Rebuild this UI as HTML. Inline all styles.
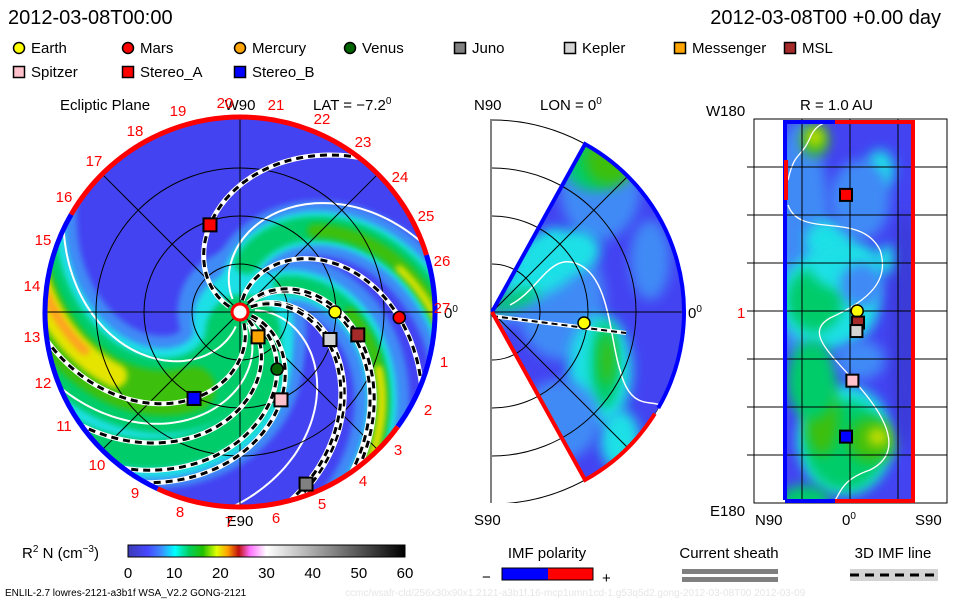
<!DOCTYPE html>
<html><head><meta charset="utf-8">
<style>
html,body{margin:0;padding:0;background:#fff;}
svg{display:block;font-family:"Liberation Sans",sans-serif;}
text{fill:#000;}
</style></head>
<body>
<svg id="root" width="960" height="600" viewBox="0 0 960 600" xmlns="http://www.w3.org/2000/svg">
<defs>
  <clipPath id="diskClip"><circle cx="240" cy="312" r="194"/></clipPath>
  <clipPath id="secClip"><path id="secPathC" d=""/></clipPath>
  <clipPath id="rectClip"><rect x="785" y="122" width="129" height="380"/></clipPath>
  <clipPath id="merBox"><rect x="491" y="119" width="240" height="384"/></clipPath>
  <filter id="blur6" x="-50%" y="-50%" width="200%" height="200%"><feGaussianBlur stdDeviation="6"/></filter>
  <filter id="blur3" x="-50%" y="-50%" width="200%" height="200%"><feGaussianBlur stdDeviation="3"/></filter>
  <linearGradient id="cmap" x1="0" x2="1" y1="0" y2="0">
    <stop offset="0" stop-color="#3c3cb4"/>
    <stop offset="0.07" stop-color="#4646ff"/>
    <stop offset="0.12" stop-color="#3c8cff"/>
    <stop offset="0.17" stop-color="#00ffff"/>
    <stop offset="0.22" stop-color="#00d060"/>
    <stop offset="0.27" stop-color="#20c000"/>
    <stop offset="0.32" stop-color="#e0ff00"/>
    <stop offset="0.36" stop-color="#ffa000"/>
    <stop offset="0.40" stop-color="#c01010"/>
    <stop offset="0.44" stop-color="#ff70ff"/>
    <stop offset="0.50" stop-color="#ffffff"/>
    <stop offset="1" stop-color="#000000"/>
  </linearGradient>
</defs>

<!-- Header -->
<text x="8" y="24" font-size="20">2012-03-08T00:00</text>
<text x="941" y="24" font-size="20" text-anchor="end">2012-03-08T00 +0.00 day</text>
<g id="legend" font-size="15"></g>

<!-- Ecliptic panel -->
<g id="ecl">
  <text x="60" y="110" font-size="15">Ecliptic Plane</text>
  <text x="313" y="110" font-size="15">LAT = −7.2<tspan dy="-6" font-size="10">0</tspan></text>
  <text x="240" y="110" font-size="15" text-anchor="middle">W90</text>
  <text x="240" y="526" font-size="15" text-anchor="middle">E90</text>
  <text x="444" y="318" font-size="15">0<tspan dy="-6" font-size="10">0</tspan></text>
  <circle cx="240" cy="312" r="194" fill="#4343f2"/>
  <g id="bands" clip-path="url(#diskClip)"></g>
  <g id="grid" stroke="#000" stroke-width="1" fill="none" clip-path="url(#diskClip)"></g>
  <g id="fieldlines" clip-path="url(#diskClip)" fill="none"></g>
  <g id="ring" fill="none" stroke-width="5"></g>
  <g id="ticks" font-size="15"></g>
  <g id="craft"></g>
</g>

<!-- Meridional panel -->
<g id="mer">
  <text x="474" y="110" font-size="15">N90</text>
  <text x="540" y="110" font-size="15">LON = 0<tspan dy="-6" font-size="10">0</tspan></text>
  <text x="474" y="525" font-size="15">S90</text>
  <text x="688" y="318" font-size="15">0<tspan dy="-6" font-size="10">0</tspan></text>
  <line x1="491" y1="119" x2="491" y2="503" stroke="#000"/>
  <g id="merArcs" fill="none" stroke="#000" stroke-width="1" clip-path="url(#merBox)"></g>
  <path id="secFill" fill="#4343f2"/>
  <g id="merBlobs" clip-path="url(#secClip)"></g>
  <g id="merGrid" fill="none" stroke="#000" stroke-width="1" clip-path="url(#secClip)"></g>
  <g id="merEdges" fill="none" stroke-width="4"></g>
</g>

<!-- R=1AU panel -->
<g id="rp">
  <text x="800" y="110" font-size="15">R = 1.0 AU</text>
  <text x="706" y="116" font-size="15">W180</text>
  <text x="710" y="516" font-size="15">E180</text>
  <text x="755" y="525" font-size="15">N90</text>
  <text x="842" y="525" font-size="15">0<tspan dy="-6" font-size="10">0</tspan></text>
  <text x="915" y="525" font-size="15">S90</text>
  <text x="737" y="318" font-size="15" style="fill:#f00">1</text>
  <rect x="754" y="119" width="193" height="384" fill="none" stroke="#000"/>
  <rect x="785" y="122" width="129" height="380" fill="#4343f2"/>
  <g id="rpBlobs" clip-path="url(#rectClip)"></g>
  <g id="rpGrid" stroke="#000" stroke-width="1"></g>
  <g id="rpEdges" fill="none" stroke-width="4"></g>
  <g id="rpCraft"></g>
</g>

<!-- Bottom -->
<text x="22" y="558" font-size="15">R<tspan dy="-6" font-size="10">2</tspan><tspan dy="6"> N (cm</tspan><tspan dy="-6" font-size="10">−3</tspan><tspan dy="6">)</tspan></text>
<rect x="128" y="545" width="277" height="12" fill="url(#cmap)" stroke="#000" stroke-width="1"/>
<g id="cbTicks" font-size="15" text-anchor="middle"></g>
<text x="547" y="558" font-size="15" text-anchor="middle">IMF polarity</text>
<text x="482" y="582" font-size="15">−</text>
<rect x="502" y="568" width="46" height="12" fill="#0000ff"/>
<rect x="548" y="568" width="45" height="12" fill="#ff0000"/>
<rect x="502" y="568" width="91" height="12" fill="none" stroke="#000"/>
<text x="602" y="583" font-size="15">+</text>
<text x="729" y="558" font-size="15" text-anchor="middle">Current sheath</text>
<rect x="682" y="569" width="96" height="5" fill="#808080"/>
<rect x="682" y="577" width="96" height="5" fill="#808080"/>
<text x="893" y="558" font-size="15" text-anchor="middle">3D IMF line</text>
<rect x="850" y="569" width="88" height="12" fill="#d3d3d3"/>
<line x1="850" y1="575" x2="938" y2="575" stroke="#000" stroke-width="3" stroke-dasharray="9 6"/>
<text x="5" y="596" font-size="10">ENLIL-2.7 lowres-2121-a3b1f WSA_V2.2 GONG-2121</text>
<text x="345" y="596" font-size="10" style="fill:#e6e6e6">ccmc/wsafr-cld/256x30x90x1.2121-a3b1f.16-mcp1umn1cd-1.g53q5d2.gong-2012-03-08T00    2012-03-09</text>

<script>
const NS = "http://www.w3.org/2000/svg";
// ---- data ----
const legendNames = ["Earth","Mars","Mercury","Venus","Juno","Kepler","Messenger","MSL","Spitzer","Stereo_A","Stereo_B"];
const legendColors = ["#ffff00","#ff0000","#ffa500","#006400","#808080","#d3d3d3","#ffa500","#a52a2a","#ffc0cb","#ff0000","#0000ff"];
const legendShapes = ["c","c","c","c","s","s","s","s","s","s","s"];
const craftNames = ["Earth","Mars","MSL","Kepler","Mercury","Venus","Spitzer","Stereo_B","Stereo_A","Juno"];
const craftR = [0.99, 1.66, 1.25, 0.98, 0.32, 0.71, 1.01, 1.02, 0.96, 1.92];   // AU
const craftLon = [0, 2, 11, 17, 54, 57, 65, 118, -109, 69];                       // deg (screen)
const craftColor = ["#ffff00","#ff0000","#a52a2a","#d3d3d3","#ffa500","#006400","#ffc0cb","#0000ff","#ff0000","#808080"];
const craftShape = ["c","c","s","s","s","c","s","s","s","s"];
const tickLabels = ["1","2","3","4","5","6","7","8","9","10","11","12","13","14","15","16","17","18","19","20","21","22","23","24","25","26","27"];
const tickX = [444,428,398,363,322,276,229,180,135,97,64,43,32,32,43,64,94,135,178,225,276,322,363,400,426,442,442];
const tickY = [362,410,450,481,504,518,522,512,493,465,426,383,337,286,240,197,161,131,111,103,105,119,142,177,216,261,308];
const cbTicks = [0,10,20,30,40,50,60];
const rpCraftNames = ["Earth","MSL","Kepler","Spitzer","Stereo_A","Stereo_B"];
const rpCraftLat = [4.5, 5, 4, 1.5, -2.5, -2.5];        // deg
const rpCraftLon = [0, -11, -19, -66, 110, -119];       // deg relative to Earth

// ---- geometry ----
const CX=240, CY=312, RD=194, AU=96, K=0.55;
const rad = d => d*Math.PI/180;
const pt = (r,phi) => [CX + r*Math.cos(rad(phi)), CY + r*Math.sin(rad(phi))];
function spiral(phi0, r0, r1, k){
  k = k||K; let d="";
  for(let r=r0;r<=r1;r+=3){const p=pt(r,phi0+k*r); d+=(d?"L":"M")+p[0].toFixed(1)+","+p[1].toFixed(1);}
  return d;
}
function mk(tag, attrs, parent){const e=document.createElementNS(NS,tag);for(const k in attrs)e.setAttribute(k,attrs[k]);parent.appendChild(e);return e;}

// legend
const lg=document.getElementById("legend");
const lgX=[19,128,240,350,460,570,680,790];
legendNames.forEach((n,i)=>{
  const x=lgX[i%8], y= i<8?48:72;
  const g=mk("g",{},lg);
  
  
  if(legendShapes[i]==="c") mk("circle",{cx:x,cy:y,r:5.5,fill:legendColors[i],stroke:"#000","stroke-width":1.5},g);
  else mk("rect",{x:x-5.5,y:y-5.5,width:11,height:11,fill:legendColors[i],stroke:"#000","stroke-width":1.5},g);
  const t=mk("text",{x:x+12,y:y+5},g); t.textContent=n;
});

// bands
const bands=document.getElementById("bands");
const bandDefs=[
 // phi0, width, color, r0, r1
 [68,125,"#3f8af6",0,260],[30,70,"#3f8af6",0,260],[-110,55,"#3f8af6",0,260],[-60,55,"#3f8af6",0,260],
 [68,100,"#1fe0e6",10,260],[30,48,"#1fe0e6",10,260],[-110,34,"#1fe0e6",30,260],[-60,30,"#1fe0e6",20,260],
 [70,75,"#00cc6a",20,260],[30,30,"#00cc6a",20,260],[-110,24,"#00cc6a",50,260],[-60,18,"#00cc6a",50,260],
 [72,45,"#3cbf10",90,260],[-108,14,"#3cbf10",110,260],[-60,11,"#3cbf10",110,260],
 [76,24,"#e4e400",140,260],[-106,7,"#e4e400",165,260],[-60,8,"#e4e400",150,260],
 [78,9,"#ffa020",160,260]
];
bandDefs.forEach((b,i)=>{
  const p=mk("path",{d:spiral(b[0],b[3],b[4]),stroke:b[2],"stroke-width":b[1],fill:"none","stroke-linecap":"round",filter:"url(#blur3)"},bands);
  
  
});
// current sheath white lines
[-128,50,-15,98].forEach(s=>{
  const p=mk("path",{d:spiral(s,15,200),stroke:"#fff","stroke-width":2,fill:"none"},bands);
  
  
});

// grid
const grid=document.getElementById("grid");
[48,96,144].forEach(r=>{const c=mk("circle",{cx:CX,cy:CY,r:r},grid);});
[0,45,90,135].forEach(a=>{const p1=pt(RD,a),p2=pt(RD,a+180);const l=mk("line",{x1:p1[0],y1:p1[1],x2:p2[0],y2:p2[1]},grid);});

// field lines
const fl=document.getElementById("fieldlines");
craftNames.forEach((n,i)=>{
  const rp=craftR[i]*AU, phi0=craftLon[i]-K*rp;
  const d=spiral(phi0,12,200);
  const w=mk("path",{d:d,stroke:"#fff","stroke-width":5},fl);
  
  
  const b=mk("path",{d:d,stroke:"#000","stroke-width":3,"stroke-dasharray":"7 5"},fl);
  
  
});

// ring
const ring=document.getElementById("ring");
function arc(r,a0,a1){const p0=pt(r,a0),p1=pt(r,a1);const big=(a1-a0)>180?1:0;return `M${p0[0]},${p0[1]}A${r},${r} 0 ${big} 1 ${p1[0]},${p1[1]}`;}
[[-150,-17,"#ff0000"],[-17,36,"#0000ff"],[36,115,"#ff0000"],[115,210,"#0000ff"]].forEach(s=>{
  const p=mk("path",{d:arc(RD+1,s[0],s[1]),stroke:s[2]},ring);
  
  
});
// sun
const sun=mk("circle",{cx:CX,cy:CY,r:8,fill:"#fff",stroke:"#ff0000","stroke-width":3},document.getElementById("craft"));



// tick labels (carrington)
const tk=document.getElementById("ticks");
tickLabels.forEach((l,i)=>{
  const t=mk("text",{x:tickX[i],y:tickY[i]+5,"text-anchor":"middle",style:"fill:#f00"},tk);
  
  
  t.textContent=l;
});

// spacecraft markers
const cr=document.getElementById("craft");
craftNames.forEach((n,i)=>{
  const p=pt(craftR[i]*AU,craftLon[i]);
  let e;
  if(craftShape[i]==="c") e=mk("circle",{cx:p[0],cy:p[1],r:6,fill:craftColor[i],stroke:"#000","stroke-width":1.5},cr);
  else e=mk("rect",{x:p[0]-6.5,y:p[1]-6.5,width:13,height:13,fill:craftColor[i],stroke:"#000","stroke-width":2},cr);
  
  
});

// ---- meridional panel ----
const MX=492, MY=312, MR=192, HA=61;
function mpt(r,a){return [MX+r*Math.cos(rad(a)), MY+r*Math.sin(rad(a))];}
const a0=mpt(MR,-HA), a1=mpt(MR,HA);
const secD=`M${MX},${MY}L${a0[0]},${a0[1]}A${MR},${MR} 0 0 1 ${a1[0]},${a1[1]}Z`;
document.getElementById("secFill").setAttribute("d",secD);
document.getElementById("secPathC").setAttribute("d",secD);
const ma=document.getElementById("merArcs");
[48,96,144,192].forEach(r=>{
  const p=mk("path",{d:`M${MX},${MY-r}A${r},${r} 0 0 1 ${MX},${MY+r}`},ma);
  
  
});
const mb=document.getElementById("merBlobs");
[[520,300,50,18,"#3f8af6",-30],[560,300,45,60,"#3f8af6",0],[600,190,40,50,"#3f8af6",0],[595,165,30,26,"#00cc6a",0],
 [610,160,25,25,"#3cbf10",0],[545,270,45,22,"#1fe0e6",-30],[515,300,25,8,"#00cc6a",-20],[540,250,30,14,"#1fe0e6",-40],
 [600,370,32,55,"#1fe0e6",0],[605,365,14,44,"#00cc6a",0],[607,360,7,25,"#3cbf10",0],[575,250,25,20,"#1fe0e6",0],[650,260,20,40,"#3f8af6",0],[620,440,20,30,"#1fe0e6",0],[560,420,40,40,"#3f8af6",0]
].forEach(b=>{
  const e=mk("ellipse",{cx:b[0],cy:b[1],rx:b[2],ry:b[3],fill:b[4],filter:"url(#blur6)",transform:`rotate(${b[5]} ${b[0]} ${b[1]})`},mb);
  
  
});
const mw=mk("path",{d:"M510,305 C540,290 550,250 580,265 C610,280 610,340 620,370 C630,410 650,400 660,405",stroke:"#fff","stroke-width":1.5,fill:"none"},mb);


const mg=document.getElementById("merGrid");
[48,96,144].forEach(r=>{const c=mk("circle",{cx:MX,cy:MY,r:r},mg);});
[-45,0,45].forEach(a=>{const p=mpt(MR,a);const l=mk("line",{x1:MX,y1:MY,x2:p[0],y2:p[1]},mg);});
const me=document.getElementById("merEdges");
const mlw=mk("line",{x1:MX,y1:MY+4,x2:626,y2:333,stroke:"#fff","stroke-width":4},me);

const mlb=mk("line",{x1:MX,y1:MY+4,x2:626,y2:333,stroke:"#000","stroke-width":2,"stroke-dasharray":"6 4"},me);

[[`M${MX},${MY}L${a0[0]},${a0[1]}A${MR},${MR} 0 0 1 ${mpt(MR,30)[0]},${mpt(MR,30)[1]}`,"#0000ff"],
 [`M${mpt(MR,32)[0]},${mpt(MR,32)[1]}A${MR},${MR} 0 0 1 ${a1[0]},${a1[1]}L${MX},${MY}`,"#ff0000"]].forEach(s=>{
  const p=mk("path",{d:s[0],stroke:s[1]},me);
  
  
});
const me2=mk("circle",{cx:584,cy:323,r:6,fill:"#ffff00",stroke:"#000","stroke-width":1.5},me);



// ---- R = 1 AU panel ----
const rb=document.getElementById("rpBlobs");
[[800,240,30,120,"#3f8af6"],[830,300,50,50,"#1fe0e6"],[815,300,28,32,"#00cc6a"],[830,240,25,20,"#1fe0e6"],[815,140,14,16,"#3cbf10"],[815,137,8,8,"#e4e400"],
 [845,265,35,25,"#1fe0e6"],[862,285,22,22,"#3f8af6"],[890,260,16,14,"#1fe0e6"],[880,170,14,20,"#1fe0e6"],
 [845,440,48,55,"#1fe0e6"],[845,445,40,45,"#00cc6a"],[872,440,24,22,"#3cbf10"],[878,437,10,8,"#e4e400"],[822,420,16,35,"#3cbf10"],
 [812,380,25,40,"#00cc6a"],[805,500,25,15,"#00cc6a"],[905,330,14,120,"#3a3ad8"],[860,200,30,40,"#3f8af6"],[860,360,25,20,"#3f8af6"]
].forEach(b=>{
  const e=mk("ellipse",{cx:b[0],cy:b[1],rx:b[2],ry:b[3],fill:b[4],filter:"url(#blur6)"},rb);
  
  
});
const rw=mk("path",{d:"M788,180 C795,150 800,160 810,138 C815,125 825,122 830,122 M788,205 C800,240 860,210 880,250 C890,280 870,300 830,318 C800,335 840,360 870,400 C900,440 890,460 870,470 C840,480 840,495 835,500",stroke:"#fff","stroke-width":1.3,fill:"none"},rb);


const rg=document.getElementById("rpGrid");
[802,850,898].forEach(x=>{const l=mk("line",{x1:x,y1:119,x2:x,y2:503},rg);});
[167,215,263,311,359,407,455].forEach(y=>{const l=mk("line",{x1:747,y1:y,x2:947,y2:y},rg);});
const re=document.getElementById("rpEdges");
[["M785,500 L785,122 L835,122","#0000ff"],["M835,122 L913,122 L913,501 L835,501","#ff0000"],["M835,501 L785,501","#0000ff"],["M786,160 L786,200","#ff0000"]].forEach(s=>{
  const p=mk("path",{d:s[0],stroke:s[1]},re);
  
  
});
const rc=document.getElementById("rpCraft");
rpCraftNames.forEach((n,i)=>{
  const x=850+rpCraftLat[i]*48/30, y=311-rpCraftLon[i]*190/180;
  const idx=craftNames.indexOf(n);
  let e;
  if(n==="Earth") e=mk("circle",{cx:x,cy:y,r:6,fill:"#ffff00",stroke:"#000","stroke-width":1.5},rc);
  else e=mk("rect",{x:x-6,y:y-6,width:12,height:12,fill:craftColor[idx],stroke:"#000","stroke-width":2},rc);
  
  
});

// colorbar ticks
const cb=document.getElementById("cbTicks");
cbTicks.forEach(v=>{
  const x=128+v/60*277;
  const t=mk("text",{x:x,y:578},cb);
  
  
  t.textContent=v;
});
</script>
</svg>
</body></html>
